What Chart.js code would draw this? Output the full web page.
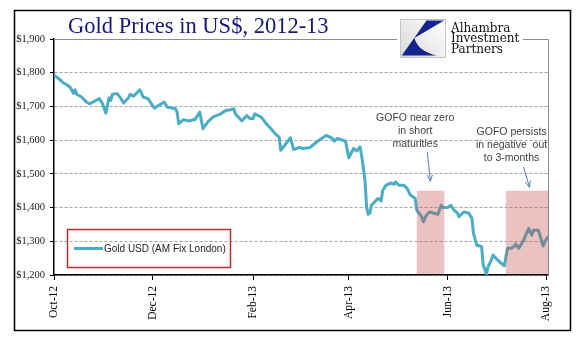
<!DOCTYPE html>
<html>
<head>
<meta charset="utf-8">
<script src="https://cdn.jsdelivr.net/npm/chart.js@4.4.0/dist/chart.umd.min.js"></script>
<style>
  html, body { margin: 0; padding: 0; background: #fff; }
</style>
</head>
<body>
<canvas id="goldChart" width="577" height="341"></canvas>
<script>
// AM fix
const dates = [
  '2012-10-01','2012-10-04','2012-10-07','2012-10-08','2012-10-11','2012-10-13','2012-10-14','2012-10-15',
  '2012-10-18','2012-10-21','2012-10-23','2012-10-25','2012-10-29','2012-10-31','2012-11-02','2012-11-04',
  '2012-11-05','2012-11-06','2012-11-09','2012-11-11','2012-11-13','2012-11-16','2012-11-17','2012-11-19',
  '2012-11-23','2012-11-25','2012-11-28','2012-12-02','2012-12-08','2012-12-10','2012-12-15','2012-12-16',
  '2012-12-17','2012-12-20','2012-12-23','2012-12-27','2012-12-30','2013-01-01','2013-01-04','2013-01-07',
  '2013-01-12','2013-01-15','2013-01-18','2013-01-20','2013-01-21','2013-01-25','2013-01-28','2013-01-30',
  '2013-02-01','2013-02-02','2013-02-06','2013-02-09','2013-02-11','2013-02-15','2013-02-17','2013-02-18',
  '2013-02-20','2013-02-24','2013-02-26','2013-03-01','2013-03-04','2013-03-08','2013-03-11','2013-03-14',
  '2013-03-18','2013-03-22','2013-03-23','2013-03-25','2013-03-30','2013-04-01','2013-04-04','2013-04-06',
  '2013-04-08','2013-04-09','2013-04-11','2013-04-12','2013-04-13','2013-04-14','2013-04-15','2013-04-17',
  '2013-04-19','2013-04-21','2013-04-22','2013-04-24','2013-04-27','2013-04-29','2013-04-30','2013-05-02',
  '2013-05-05','2013-05-07','2013-05-09','2013-05-12','2013-05-13','2013-05-16','2013-05-17','2013-05-19',
  '2013-05-21','2013-05-23','2013-05-26','2013-05-28','2013-05-29','2013-06-01','2013-06-03','2013-06-05',
  '2013-06-07','2013-06-08','2013-06-11','2013-06-14','2013-06-16','2013-06-17','2013-06-19','2013-06-22',
  '2013-06-23','2013-06-25','2013-06-26','2013-06-28','2013-06-29','2013-07-02','2013-07-04','2013-07-06',
  '2013-07-07','2013-07-08','2013-07-10','2013-07-12','2013-07-13','2013-07-15','2013-07-18','2013-07-21',
  '2013-07-23','2013-07-24','2013-07-27','2013-07-28','2013-07-30','2013-07-31','2013-08-02'
];
const goldUsd = [
  1793, 1782, 1769, 1767, 1757, 1739, 1749, 1736,
  1728, 1713, 1708, 1713, 1723, 1708, 1680, 1726,
  1718, 1736, 1738, 1726, 1710, 1726, 1736, 1730,
  1749, 1728, 1723, 1695, 1713, 1698, 1693, 1683,
  1649, 1661, 1657, 1661, 1683, 1634, 1654, 1668,
  1678, 1688, 1690, 1693, 1678, 1657, 1673, 1664,
  1664, 1678, 1668, 1649, 1639, 1617, 1609, 1570,
  1582, 1607, 1572, 1578, 1575, 1578, 1590, 1601,
  1614, 1605, 1597, 1605, 1597, 1548, 1575, 1568,
  1580, 1552, 1481, 1402, 1380, 1383, 1407, 1417,
  1427, 1420, 1452, 1466, 1473, 1469, 1476, 1466,
  1466, 1457, 1437, 1427, 1392, 1373, 1358, 1378,
  1387, 1384, 1380, 1407, 1400, 1400, 1407, 1392,
  1384, 1373, 1387, 1384, 1368, 1323, 1289, 1284,
  1230, 1203, 1225, 1244, 1259, 1244, 1235, 1227,
  1254, 1279, 1279, 1284, 1292, 1279, 1304, 1338,
  1318, 1333, 1333, 1318, 1286, 1299, 1313
];

const tickDates = ['2012-10-01','2012-12-01','2013-02-01','2013-04-01','2013-06-01','2013-08-01'];
const tickLabels = ['Oct-12','Dec-12','Feb-13','Apr-13','Jun-13','Aug-13'];
const firstDay = '2012-10-01';
const lastDay = '2013-08-02';

// GOFO shaded periods
const shadeFrom = ['2013-05-13','2013-07-07'];
const shadeTo = ['2013-05-30','2013-08-02'];
const shadeTop = 1450;

const noteNear = ['GOFO near zero', 'in short', 'maturities'];
const notePersist = ['GOFO persists', 'in negative  out', 'to 3-months'];

const dayOf = d => (Date.parse(d) - Date.parse(firstDay)) / 864e5;

function arrow(ctx, x1, y1, x2, y2) {
  const a = Math.atan2(y2 - y1, x2 - x1);
  ctx.beginPath();
  ctx.moveTo(x1, y1);
  ctx.lineTo(x2, y2);
  ctx.moveTo(x2 - 7 * Math.cos(a - 0.4), y2 - 7 * Math.sin(a - 0.4));
  ctx.lineTo(x2, y2);
  ctx.lineTo(x2 - 7 * Math.cos(a + 0.4), y2 - 7 * Math.sin(a + 0.4));
  ctx.stroke();
}

const decor = {
  id: 'decor',
  beforeDraw(chart) {
    const ctx = chart.ctx;
    ctx.save();
    ctx.fillStyle = '#fff';
    ctx.fillRect(0, 0, chart.width, chart.height);
    ctx.strokeStyle = '#000';
    ctx.lineWidth = 1.5;
    ctx.strokeRect(14.5, 10.5, 556, 320);
    ctx.restore();
  },
  afterDatasetsDraw(chart) {
    const { ctx, chartArea: ca, scales: { x, y } } = chart;
    ctx.save();
    ctx.fillStyle = 'rgba(192,80,77,0.35)';
    shadeFrom.forEach((d, i) => {
      const x1 = x.getPixelForValue(dayOf(d));
      const x2 = x.getPixelForValue(dayOf(shadeTo[i]));
      const yt = y.getPixelForValue(shadeTop);
      ctx.fillRect(x1, yt, x2 - x1, ca.bottom - 1 - yt);
    });
    // plot area border (top + right)
    ctx.strokeStyle = '#8c8c8c';
    ctx.lineWidth = 1;
    ctx.beginPath();
    ctx.moveTo(ca.left, Math.round(ca.top) + 0.5);
    ctx.lineTo(Math.round(ca.right) + 0.5, Math.round(ca.top) + 0.5);
    ctx.lineTo(Math.round(ca.right) + 0.5, ca.bottom);
    ctx.stroke();
    ctx.restore();
  },
  afterDraw(chart) {
    const { ctx, scales: { x, y } } = chart;
    ctx.save();

    // title
    ctx.fillStyle = '#17177a';
    ctx.font = '22.5px "Liberation Serif"';
    ctx.textBaseline = 'alphabetic';
    ctx.fillText('Gold Prices in US$, 2012-13', 68, 33);

    // logo
    ctx.fillStyle = '#fff';
    ctx.fillRect(397, 14, 126, 46);
    const bx = 400, by = 19, bw = 45, bh = 38;
    const g = ctx.createLinearGradient(bx, by + bh, bx + bw, by);
    g.addColorStop(0, '#d9d9d9');
    g.addColorStop(1, '#ffffff');
    ctx.fillStyle = g;
    ctx.fillRect(bx, by, bw, bh);
    ctx.strokeStyle = '#c4c4c4';
    ctx.lineWidth = 1;
    ctx.strokeRect(bx + 0.5, by + 0.5, bw, bh);
    ctx.fillStyle = '#14248c';
    ctx.beginPath();
    ctx.moveTo(bx + 0.59 * bw, by + 0.04 * bh);
    ctx.lineTo(bx + 0.98 * bw, by + 0.04 * bh);
    ctx.lineTo(bx + 0.32 * bw, by + 0.5 * bh);
    ctx.quadraticCurveTo(bx + 0.4 * bw, by + 0.85 * bh, bx + 0.81 * bw, by + 0.96 * bh);
    ctx.lineTo(bx + 0.04 * bw, by + 0.96 * bh);
    ctx.closePath();
    ctx.fill();
    ctx.fillStyle = '#111';
    ctx.font = '12px "DejaVu Serif"';
    ctx.fillText('Alhambra', 451, 31.5);
    ctx.fillText('Investment', 451, 42);
    ctx.fillText('Partners', 451, 53);

    // legend
    ctx.strokeStyle = '#b5302e';
    ctx.lineWidth = 1.5;
    ctx.strokeRect(67.5, 229.5, 163, 38);
    ctx.strokeStyle = chart.data.datasets[0].borderColor;
    ctx.lineWidth = 3;
    ctx.beginPath();
    ctx.moveTo(74, 248.5);
    ctx.lineTo(103, 248.5);
    ctx.stroke();
    ctx.fillStyle = '#222';
    ctx.font = '10px "Liberation Sans"';
    ctx.textBaseline = 'middle';
    ctx.fillText(chart.data.datasets[0].label, 104, 249);

    // notes + arrows
    ctx.fillStyle = '#404040';
    ctx.font = '10.5px "Liberation Sans"';
    ctx.textAlign = 'center';
    const cx1 = x.getPixelForValue(223);
    noteNear.forEach((t, i) => ctx.fillText(t, cx1, y.getPixelForValue(1666) + i * 13.3));
    const cx2 = x.getPixelForValue(282.5);
    notePersist.forEach((t, i) => ctx.fillText(t, cx2, y.getPixelForValue(1624) + i * 13));
    ctx.strokeStyle = '#5a7bb5';
    ctx.lineWidth = 1;
    arrow(ctx, x.getPixelForValue(230.5), y.getPixelForValue(1564), x.getPixelForValue(232.4), y.getPixelForValue(1478));
    arrow(ctx, x.getPixelForValue(289.9), y.getPixelForValue(1520), x.getPixelForValue(293.6), y.getPixelForValue(1460));

    ctx.restore();
  }
};

new Chart(document.getElementById('goldChart'), {
  type: 'line',
  data: {
    datasets: [{
      label: 'Gold USD (AM Fix London)',
      data: dates.map((d, i) => ({ x: dayOf(d), y: goldUsd[i] })),
      borderColor: '#4bacc6',
      borderWidth: 3,
      pointRadius: 0,
      tension: 0,
      borderJoinStyle: 'round',
      borderCapStyle: 'round'
    }]
  },
  options: {
    responsive: false,
    animation: false,
    layout: { padding: { left: 0, top: 39, right: 29, bottom: 0 } },
    plugins: { legend: { display: false }, tooltip: { enabled: false } },
    scales: {
      x: {
        type: 'linear',
        min: 0,
        max: dayOf(lastDay),
        afterBuildTicks: s => { s.ticks = tickDates.map(d => ({ value: dayOf(d) })); },
        afterFit: s => { s.height = 66; },
        ticks: {
          autoSkip: false,
          minRotation: 90,
          maxRotation: 90,
          padding: 6,
          color: '#000',
          font: { family: 'Liberation Serif', size: 11.5 },
          callback: (v, i) => tickLabels[i]
        },
        grid: { drawOnChartArea: false, drawTicks: true, tickLength: 5, tickColor: '#000', tickWidth: 1 },
        border: { color: '#000', width: 1.5 }
      },
      y: {
        min: 1200,
        max: 1900,
        afterFit: s => { s.width = 54; },
        ticks: {
          stepSize: 100,
          padding: 5,
          color: '#1a1a1a',
          font: { family: 'Liberation Serif', size: 10.5 },
          callback: v => '$' + v.toLocaleString('en-US')
        },
        grid: { color: '#a6a6a6', lineWidth: 1, tickLength: 4, tickColor: '#000', tickBorderDash: [] },
        border: { color: '#000', width: 1.5, dash: [3, 2] }
      }
    }
  },
  plugins: [decor]
});
</script>
</body>
</html>
